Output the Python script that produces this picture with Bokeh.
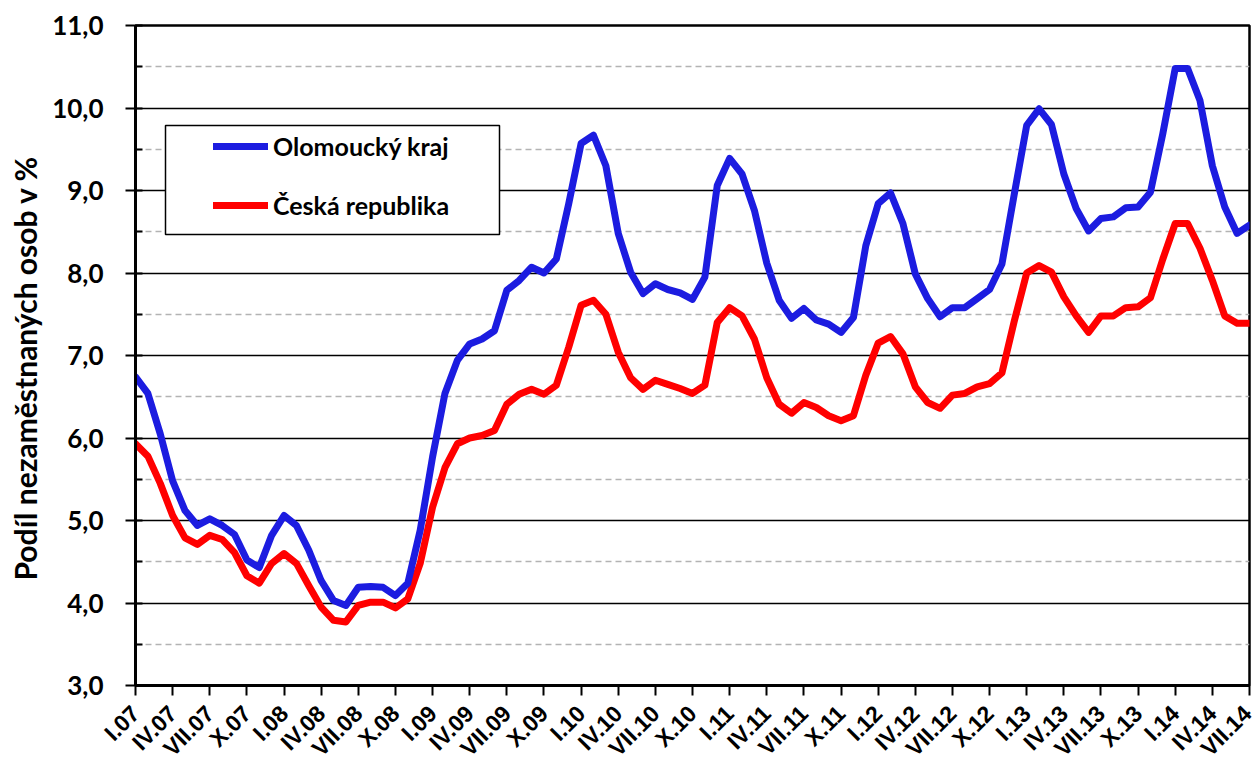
from math import pi
from bokeh.plotting import figure
from bokeh.models import (Range1d, FixedTicker, Legend, LegendItem, BoxAnnotation, Title)
from bokeh.embed import file_html
from bokeh.resources import INLINE

# monthly data I.2007 .. VII.2014
olomoucky_kraj = [6.74, 6.54, 6.05, 5.48, 5.12, 4.94, 5.02, 4.94, 4.83, 4.52, 4.43, 4.82,
                  5.06, 4.94, 4.64, 4.27, 4.03, 3.97, 4.19, 4.20, 4.19, 4.09, 4.24, 4.88,
                  5.77, 6.54, 6.94, 7.14, 7.20, 7.30, 7.79, 7.91, 8.07, 8.00, 8.17, 8.84,
                  9.57, 9.67, 9.30, 8.48, 8.01, 7.75, 7.87, 7.80, 7.76, 7.68, 7.95, 9.06,
                  9.39, 9.20, 8.76, 8.12, 7.67, 7.45, 7.57, 7.43, 7.38, 7.28, 7.46, 8.33,
                  8.84, 8.97, 8.60, 7.99, 7.69, 7.47, 7.58, 7.58, 7.69, 7.80, 8.11, 8.96,
                  9.79, 9.99, 9.80, 9.20, 8.78, 8.51, 8.66, 8.68, 8.79, 8.80, 8.98, 9.69,
                  10.48, 10.48, 10.09, 9.30, 8.80, 8.48, 8.58]
ceska_republika = [5.93, 5.78, 5.45, 5.06, 4.79, 4.71, 4.82, 4.77, 4.61, 4.33, 4.24, 4.48,
                   4.60, 4.48, 4.21, 3.95, 3.79, 3.77, 3.97, 4.01, 4.01, 3.94, 4.05, 4.48,
                   5.16, 5.64, 5.93, 6.00, 6.03, 6.09, 6.41, 6.53, 6.59, 6.53, 6.64, 7.10,
                   7.61, 7.67, 7.50, 7.04, 6.73, 6.59, 6.70, 6.65, 6.60, 6.54, 6.64, 7.40,
                   7.58, 7.48, 7.20, 6.73, 6.41, 6.30, 6.43, 6.37, 6.27, 6.21, 6.27, 6.76,
                   7.15, 7.23, 7.02, 6.62, 6.43, 6.36, 6.52, 6.54, 6.62, 6.66, 6.79, 7.42,
                   8.00, 8.09, 8.01, 7.71, 7.48, 7.28, 7.48, 7.48, 7.58, 7.59, 7.70, 8.17,
                   8.60, 8.60, 8.30, 7.91, 7.48, 7.39, 7.39]
months = list(range(len(olomoucky_kraj)))

x_tick_labels = ["I.07", "IV.07", "VII.07", "X.07", "I.08", "IV.08", "VII.08", "X.08",
                 "I.09", "IV.09", "VII.09", "X.09", "I.10", "IV.10", "VII.10", "X.10",
                 "I.11", "IV.11", "VII.11", "X.11", "I.12", "IV.12", "VII.12", "X.12",
                 "I.13", "IV.13", "VII.13", "X.13", "I.14", "IV.14", "VII.14"]
x_ticks = [3 * i for i in range(len(x_tick_labels))]
y_ticks = [3, 4, 5, 6, 7, 8, 9, 10, 11]
y_tick_labels = ["3,0", "4,0", "5,0", "6,0", "7,0", "8,0", "9,0", "10,0", "11,0"]
y_minor = [3.5, 4.5, 5.5, 6.5, 7.5, 8.5, 9.5, 10.5]

BLUE = "#1c1ce0"
RED = "#ff0000"

p = figure(width=1256, height=773, output_backend="svg", toolbar_location=None,
           x_range=Range1d(months[0], months[-1]), y_range=Range1d(y_ticks[0], y_ticks[-1]),
           min_border_left=135, min_border_right=7, min_border_top=25, min_border_bottom=88,
           background_fill_color="white", border_fill_color="white")
p.outline_line_color = "black"
p.outline_line_width = 2.5

yt = FixedTicker(ticks=y_ticks, minor_ticks=y_minor)
p.yaxis.ticker = yt
p.yaxis.major_label_overrides = {t: l for t, l in zip(y_ticks, y_tick_labels)}
p.yaxis.major_label_text_font = "Lato"
p.yaxis.major_label_text_font_style = "bold"
p.yaxis.major_label_text_font_size = "26px"
p.yaxis.major_label_text_color = "black"
p.yaxis.major_label_standoff = 22
p.yaxis.major_tick_in = 7
p.yaxis.major_tick_out = 10
p.yaxis.minor_tick_in = 7
p.yaxis.minor_tick_out = 0
p.yaxis.major_tick_line_width = 2
p.yaxis.minor_tick_line_width = 2
p.yaxis.axis_line_width = 3

p.xaxis.ticker = FixedTicker(ticks=x_ticks, minor_ticks=[])
p.xaxis.major_label_overrides = {t: l for t, l in zip(x_ticks, x_tick_labels)}
p.xaxis.major_label_orientation = pi / 4
p.xaxis.major_label_text_font = "Liberation Sans"
p.xaxis.major_label_text_font_style = "bold"
p.xaxis.major_label_text_font_size = "23px"
p.xaxis.major_label_text_line_height = 0.9
p.xaxis.major_label_text_color = "black"
p.xaxis.major_label_standoff = 14
p.xaxis.major_tick_in = 0
p.xaxis.major_tick_out = 10
p.xaxis.major_tick_line_width = 2
p.xaxis.minor_tick_line_color = None
p.xaxis.axis_line_width = 3

p.xgrid.grid_line_color = None
p.ygrid.ticker = yt
p.ygrid.grid_line_color = "black"
p.ygrid.grid_line_width = 1.5
p.ygrid.minor_grid_line_color = "#b3b3b3"
p.ygrid.minor_grid_line_width = 1.5
p.ygrid.minor_grid_line_dash = "6 4"

r_cr = p.line(months, ceska_republika, line_color=RED, line_width=7,
              line_join="round", line_cap="round")
r_ok = p.line(months, olomoucky_kraj, line_color=BLUE, line_width=7,
              line_join="round", line_cap="round")

# y axis title (starts 105 px above the bottom of the plot area)
p.add_layout(Title(text="Podíl nezaměstnaných osob v %", align="left", offset=105,
                   vertical_align="top",
                   text_font="Lato", text_font_style="bold", text_font_size="30px",
                   text_color="black", standoff=10), "left")

box = BoxAnnotation(left=30, right=364, top=560, bottom=451,
                    left_units="screen", right_units="screen",
                    top_units="screen", bottom_units="screen",
                    fill_color="white", fill_alpha=1.0,
                    line_color="black", line_width=1.5, line_alpha=1.0)
p.add_layout(box)

legend = Legend(items=[LegendItem(label="Olomoucký kraj", renderers=[r_ok]),
                       LegendItem(label="Česká republika", renderers=[r_cr])],
                location=(78, 465), padding=0, margin=0,
                border_line_color=None, background_fill_alpha=0,
                glyph_width=55, glyph_height=26, label_height=26, spacing=29,
                label_standoff=5, label_text_font="Lato", label_text_font_style="bold",
                label_text_font_size="25px", label_text_color="black")
p.add_layout(legend)

open("out.html", "w").write(file_html(p, INLINE))
